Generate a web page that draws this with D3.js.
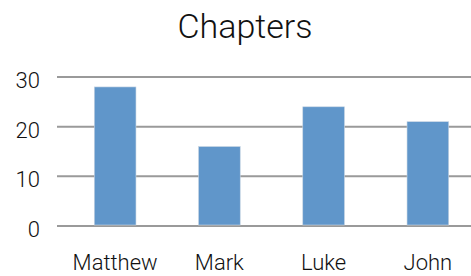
<!DOCTYPE html>
<html>
<head>
<meta charset="utf-8">
<script src="https://cdn.jsdelivr.net/npm/d3@7"></script>
<style>
  body { margin: 0; background: #fff; }
  text { font-family: "Roboto", "Liberation Sans", sans-serif; font-weight: 300; fill: #111; }
</style>
</head>
<body>
<svg id="chart" width="471" height="276"></svg>
<script>
var categories = ["Matthew", "Mark", "Luke", "John"];
var chapters = [28, 16, 24, 21];
var yTicks = [0, 10, 20, 30];

var svg = d3.select("#chart");

var x = d3.scaleBand()
  .domain(categories)
  .range([63, 480])
  .paddingInner(0.6)
  .paddingOuter(0.3);

var y = d3.scaleLinear()
  .domain([0, 30])
  .range([226, 77]);

// gridlines
svg.append("g")
  .selectAll("line")
  .data(yTicks)
  .join("line")
  .attr("x1", 57)
  .attr("x2", 471)
  .attr("y1", function(d) { return y(d); })
  .attr("y2", function(d) { return y(d); })
  .style("stroke", "#9a9a9a")
  .style("stroke-width", 2);

// y labels
svg.append("g")
  .selectAll("text")
  .data(yTicks)
  .join("text")
  .attr("x", 40)
  .attr("y", function(d) { return y(d) + 11; })
  .attr("text-anchor", "end")
  .style("font-size", "22px")
  .text(function(d) { return d; });

// bars
svg.append("g")
  .selectAll("rect")
  .data(chapters)
  .join("rect")
  .attr("x", function(d, i) { return x(categories[i]); })
  .attr("width", x.bandwidth())
  .attr("y", function(d) { return y(d); })
  .attr("height", function(d) { return y(0) - y(d) - 1; })
  .style("fill", "#6096ca")
  .style("stroke", "#c9d6e3")
  .style("stroke-width", 0.6);

// x labels
svg.append("g")
  .selectAll("text")
  .data(categories)
  .join("text")
  .attr("x", function(d) { return x(d) + x.bandwidth() / 2; })
  .attr("y", 270)
  .attr("text-anchor", "middle")
  .style("font-size", "22px")
  .text(function(d) { return d; });

svg.append("text")
  .attr("x", 245)
  .attr("y", 38)
  .attr("text-anchor", "middle")
  .style("font-size", "34px")
  .text("Chapters");
</script>
</body>
</html>
